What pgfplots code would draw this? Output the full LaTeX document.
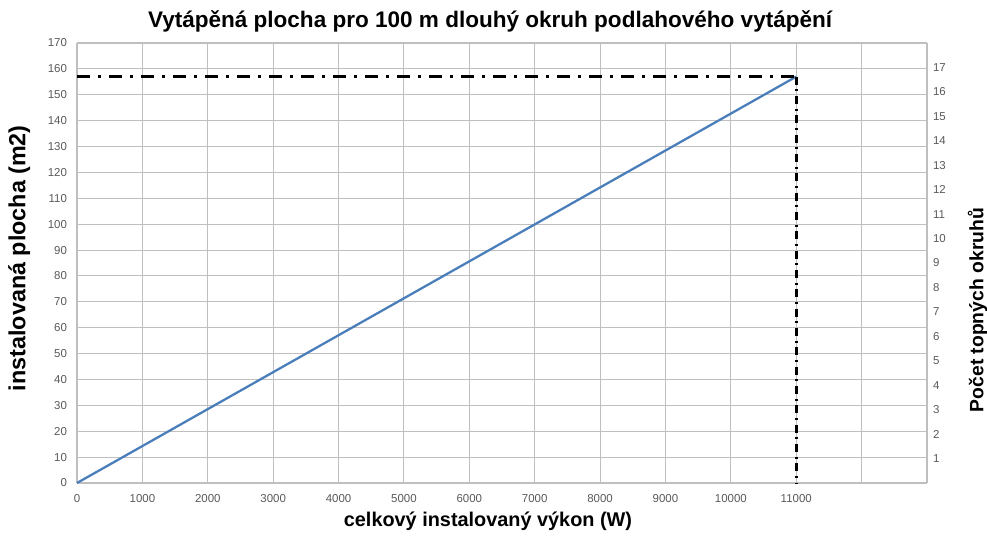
\documentclass[border=0pt]{standalone}
\usepackage{pgfplots}
\pgfplotsset{compat=1.18}
\usepackage{fontspec}
\setmainfont{Liberation Sans}
\definecolor{cline}{HTML}{4A7EBB}
\definecolor{cgrid}{HTML}{BFBFBF}
\definecolor{ctick}{HTML}{595959}

\begin{document}
\begin{tikzpicture}
\useasboundingbox (-57.75pt,-42pt) rectangle (682.5pt,362.25pt);
\begin{axis}[
    at={(0,0)}, anchor=origin,
    scale only axis, width=637.5pt, height=330pt,
    xmin=0, xmax=13000, ymin=0, ymax=170,
    xtick={0,1000,...,13000},
    xticklabels={0,1000,2000,3000,4000,5000,6000,7000,8000,9000,10000,11000,{},{}},
    scaled x ticks=false,
    ytick={0,10,...,170},
    yticklabels={0,10,20,30,40,50,60,70,80,90,100,110,120,130,140,150,160,170},
    major tick length=0pt,
    grid=major, grid style={cgrid, line width=0.8pt},
    axis line style={cgrid, line width=0.8pt},
    tick label style={font=\fontsize{8.6}{10}\selectfont, text=ctick},
    /pgf/number format/assume math mode=true,
    xticklabel style={yshift=-5pt},
    yticklabel style={xshift=-4pt},
    axis y line*=left,
    clip=false,
]
\addplot[cline, line width=1.7pt] coordinates {(0,0) (11000,157)};
\addplot[black, line width=2pt, dash pattern=on 9.5pt off 6pt on 2.5pt off 6pt]
    coordinates {(0,157) (11000,157)};
\addplot[black, line width=2.1pt, dash pattern=on 6pt off 3.5pt on 1.5pt off 3.5pt]
    coordinates {(11000,157) (11000,0)};
\draw[cgrid, line width=0.8pt] (rel axis cs:1,0) -- (rel axis cs:1,1);
\draw[cgrid, line width=0.8pt] (rel axis cs:0,1) -- (rel axis cs:1,1);
\node[font=\fontsize{16.9}{19}\bfseries] at (axis description cs:0.486,1.048)
    {Vytápěná plocha pro 100 m dlouhý okruh podlahového vytápění};
\node[font=\fontsize{14.9}{17}\bfseries] at (axis description cs:0.4835,-0.086)
    {celkový instalovaný výkon (W)};
\node[font=\fontsize{17.5}{20}\bfseries, rotate=90] at (axis description cs:-0.068,0.511)
    {instalovaná plocha (m2)};
\node[font=\fontsize{14.5}{17}\bfseries, rotate=90] at (axis description cs:1.0595,0.393)
    {Počet topných okruhů};
\end{axis}
\begin{axis}[
    at={(0,0)}, anchor=origin,
    scale only axis, width=637.5pt, height=330pt,
    xmin=0, xmax=13000, ymin=0, ymax=18,
    hide x axis, scaled x ticks=false,
    axis y line*=right,
    axis line style={draw=none},
    major tick length=0pt,
    ytick={1,2,...,17},
    tick label style={font=\fontsize{8.6}{10}\selectfont, text=ctick},
    /pgf/number format/assume math mode=true,
    yticklabel style={xshift=1pt},
]
\addplot[draw=none] coordinates {(0,0)};
\end{axis}
\end{tikzpicture}
\end{document}
